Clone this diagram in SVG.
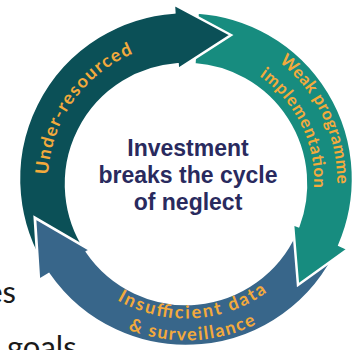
<svg xmlns="http://www.w3.org/2000/svg" xmlns:xlink="http://www.w3.org/1999/xlink" width="361" height="350" viewBox="0 0 361 350">
<style>
.band{stroke:#fff;stroke-width:2.5;stroke-linejoin:miter}
.lbl{font-family:Lato,"Open Sans",sans-serif;font-weight:700;fill:#f3aa3c;text-anchor:middle}
.center{font-family:"Liberation Sans",Arial,sans-serif;font-weight:700;fill:#292a5e;font-size:23px;text-anchor:middle}
.bg{font-family:Lato,"Liberation Sans",sans-serif;font-size:31px;fill:#1a1a1a}
</style>
<defs>
<path id="p-under" d="M 52.7 216.7 A 138 138 0 0 1 173.97 43.53"/>
<path id="p-weak" d="M 223.81 34.81 A 151 151 0 0 1 323.4 243.62"/>
<path id="p-impl" d="M 216.97 56.8 A 128 128 0 0 1 302.93 233.06"/>
<path id="p-insuf" d="M 85.44 274.78 A 137.5 137.5 0 0 0 295.81 263.75"/>
<path id="p-surv" d="M 68.22 288.55 A 159.5 159.5 0 0 0 312.37 278.32"/>
<mask id="m-dark" maskUnits="userSpaceOnUse" x="0" y="0" width="361" height="350">
<rect x="0" y="0" width="361" height="350" fill="#fff"/>
<path d="M 48.78 274.19 L 39 280 L 35 218 L 90 250 L 86.99 251.8 Z" fill="#000" stroke="#000" stroke-width="3"/>
</mask>
</defs>
<g id="background-text">
<text class="bg" x="16" y="303" text-anchor="end">es</text>
<text class="bg" x="7" y="358">goals</text>
</g>
<g id="connectors">
<g id="arrow-insufficient-data">
<path class="band" fill="#38668a" d="M 338.56 246.93 A 167 167 0 0 1 48.78 274.19 L 39 280 L 35 218 L 90 250 L 86.99 251.8 A 120 120 0 0 0 295.63 232.81 Z"/>
<text class="lbl" font-size="18"><textPath xlink:href="#p-insuf" href="#p-insuf" startOffset="50%" textLength="159" lengthAdjust="spacing">Insufficient data</textPath></text>
<text class="lbl" font-size="18"><textPath xlink:href="#p-surv" href="#p-surv" startOffset="50%" textLength="132" lengthAdjust="spacing">&amp; surveillance</textPath></text>
</g>
<g id="arrow-weak-programme">
<path class="band" fill="#178c7f" d="M 197.65 12.41 A 167 167 0 0 1 339.38 245.06 L 348 249 L 298 285 L 293 224 L 298.33 226.22 A 120 120 0 0 0 194.37 64.29 Z"/>
<text class="lbl" font-size="17"><textPath xlink:href="#p-weak" href="#p-weak" startOffset="50%" textLength="140" lengthAdjust="spacing">Weak programme</textPath></text>
<text class="lbl" font-size="17"><textPath xlink:href="#p-impl" href="#p-impl" startOffset="50%" textLength="130" lengthAdjust="spacing">implementation</textPath></text>
</g>
<g id="arrow-under-resourced">
<path class="band" fill="#0b5057" mask="url(#m-dark)" d="M 45.94 269.95 A 167 167 0 0 1 174.35 12.41 L 173.85 4.4 L 231 35 L 177.95 69.3 L 177.63 64.29 A 120 120 0 0 0 85.36 249.35 Z"/>
<text class="lbl" font-size="18"><textPath xlink:href="#p-under" href="#p-under" startOffset="50%" textLength="156" lengthAdjust="spacing">Under-resourced</textPath></text>
</g>
</g>
<g id="center-label">
<text class="center" x="188" y="156">Investment</text>
<text class="center" x="188" y="183">breaks the cycle</text>
<text class="center" x="188" y="210">of neglect</text>
</g>
</svg>
